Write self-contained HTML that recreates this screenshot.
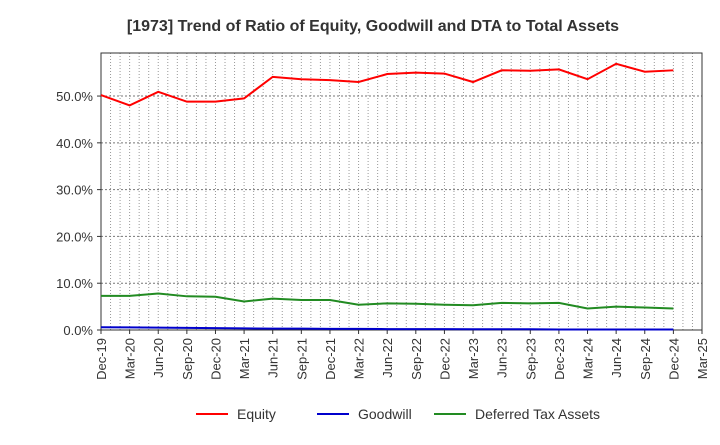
<!DOCTYPE html>
<html><head><meta charset="utf-8"><style>
body{margin:0;background:#fff;font-family:"Liberation Sans",sans-serif}
</style></head><body>
<svg id="chart" width="720" height="440" xmlns="http://www.w3.org/2000/svg">
<text x="373" y="31" text-anchor="middle" font-size="16" font-weight="bold" fill="#333">[1973]  Trend of Ratio of Equity, Goodwill and DTA to Total Assets</text>
<g id="grid"></g><g id="axes"></g><g id="series"></g>
<g>
<line x1="196" y1="414" x2="228" y2="414" stroke="#f00" stroke-width="2"/><text x="237" y="419" font-size="14" fill="#333">Equity</text>
<line x1="317" y1="414" x2="349" y2="414" stroke="#00c" stroke-width="2"/><text x="358" y="419" font-size="14" fill="#333">Goodwill</text>
<line x1="434" y1="414" x2="466" y2="414" stroke="#228b22" stroke-width="2"/><text x="475" y="419" font-size="14" fill="#333">Deferred Tax Assets</text>
</g>
</svg>
<script>
const categories=["Dec-19","Mar-20","Jun-20","Sep-20","Dec-20","Mar-21","Jun-21","Sep-21","Dec-21","Mar-22","Jun-22","Sep-22","Dec-22","Mar-23","Jun-23","Sep-23","Dec-23","Mar-24","Jun-24","Sep-24","Dec-24","Mar-25"];
const equity=[50.2,48.0,50.9,48.8,48.8,49.5,54.1,53.6,53.4,53.0,54.7,55.0,54.8,53.0,55.5,55.4,55.7,53.6,56.9,55.2,55.5];
const goodwill=[0.6,0.55,0.5,0.45,0.4,0.35,0.3,0.3,0.25,0.25,0.2,0.2,0.2,0.15,0.15,0.15,0.1,0.1,0.1,0.1,0.1];
const dta=[7.3,7.3,7.8,7.2,7.1,6.1,6.7,6.4,6.4,5.4,5.7,5.6,5.4,5.3,5.8,5.7,5.8,4.6,5.0,4.8,4.6];
const yTicks=[0,10,20,30,40,50];
const L=101,R=702,T=53,B=330,YMAX=59.2;
const xs=i=>L+i*(R-L)/(categories.length-1);
const ys=v=>B-v*(B-T)/YMAX;
const NS="http://www.w3.org/2000/svg";
function mk(t,a,p){const e=document.createElementNS(NS,t);for(const k in a)e.setAttribute(k,a[k]);p.appendChild(e);return e;}
const grid=document.getElementById('grid'),axes=document.getElementById('axes'),ser=document.getElementById('series');
const nMonths=(categories.length-1)*3;
for(let m=1;m<nMonths;m++){const x=L+m*(R-L)/nMonths;const l=mk('line',{x1:x,x2:x,y1:T,y2:B,stroke:'#999','stroke-width':1,'stroke-dasharray':'1,2'},grid);

}
yTicks.forEach(v=>{const y=ys(v);if(v>0){const l=mk('line',{x1:L,x2:R,y1:y,y2:y,stroke:'#777','stroke-width':1,'stroke-dasharray':'2,2'},grid);

}
const t=mk('text',{x:L-8,y:y+5,'text-anchor':'end','font-size':13,fill:'#333'},axes);t.textContent=v.toFixed(1)+'%';


mk('line',{x1:L-4,x2:L,y1:y,y2:y,stroke:'#333'},axes);});
categories.forEach((c,i)=>{const x=xs(i);const t=mk('text',{transform:`translate(${x+5},${B+8}) rotate(-90)`,'text-anchor':'end','font-size':13,fill:'#333'},axes);t.textContent=c;


mk('line',{x1:x,x2:x,y1:B,y2:B+4,stroke:'#333'},axes);});
const f=mk('rect',{x:L,y:T,width:R-L,height:B-T,fill:'none',stroke:'#333','stroke-width':1},axes);


[[equity,'#f00','equity-line'],[goodwill,'#00c','goodwill-line'],[dta,'#228b22','dta-line']].forEach(([d,c,n])=>{
const p=mk('polyline',{points:d.map((v,i)=>xs(i)+','+ys(v)).join(' '),fill:'none',stroke:c,'stroke-width':2},ser);

});
</script>
</body></html>
